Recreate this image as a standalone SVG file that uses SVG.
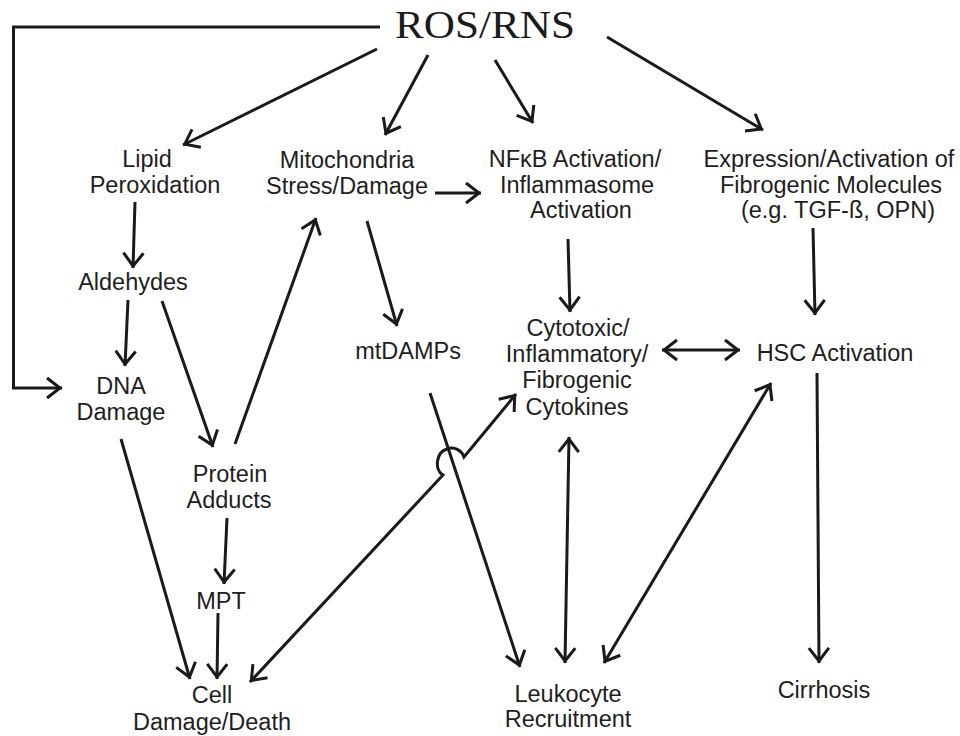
<svg xmlns="http://www.w3.org/2000/svg" width="960" height="736" viewBox="0 0 960 736">
<defs>
<style>
.t{font-family:"Liberation Sans",Arial,sans-serif;font-size:23.5px;fill:#1e1e1e;text-anchor:middle}
.title{font-family:"Liberation Serif","Times New Roman",serif;font-size:41px;fill:#1a1a1a;text-anchor:middle}
.c{fill:none;stroke:#1a1a1a;stroke-width:3}
.a{marker-end:url(#ah)}
.d{marker-start:url(#ah);marker-end:url(#ah)}
</style>
<marker id="ah" markerUnits="userSpaceOnUse" markerWidth="34" markerHeight="34" viewBox="-20 -17 34 34" refX="2" refY="0" orient="auto-start-reverse">
<path d="M-13,-10 L0,0 L-13,10" fill="none" stroke="#1a1a1a" stroke-width="3"/>
</marker>
</defs>
<rect width="960" height="736" fill="#fff"/>

<g id="connectors">
<path class="c a" d="M380,27 L13.5,27 L13.5,388 L62,388"/>
<path class="c a" d="M377,49 L183,145"/>
<path class="c a" d="M428,55 L385,135"/>
<path class="c a" d="M495,60 L533,123"/>
<path class="c a" d="M607,37 L763,130"/>
<path class="c a" d="M435,193 L481,193"/>
<path class="c a" d="M135,202 L133,268"/>
<path class="c a" d="M128,300 L125,366"/>
<path class="c a" d="M162,301 L213,447"/>
<path class="c a" d="M121,439 L190,679"/>
<path class="c a" d="M235,444 L316,218"/>
<path class="c a" d="M367,221 L397,326"/>
<path class="c a" d="M227,518 L224,584"/>
<path class="c a" d="M218,613 L217,679"/>
<path class="c a" d="M430,393 L520,667"/>
<path class="c d" d="M250,682 L443,475 C434,470 436,452 447,449 C455,446 462,451 464,457 L516,394"/>
<path class="c a" d="M568,239 L570,312"/>
<path class="c a" d="M813,228 L815,315"/>
<path class="c d" d="M662,350 L740,350"/>
<path class="c d" d="M565,663 L569,437"/>
<path class="c d" d="M604,663 L771,383"/>
<path class="c a" d="M817,373 L819,663"/>
</g>

<g id="ros"><text class="title" x="485" y="38" textLength="180" lengthAdjust="spacingAndGlyphs">ROS/RNS</text></g>
<g id="lipid"><text class="t" x="147" y="167">Lipid</text><text class="t" x="155" y="193">Peroxidation</text></g>
<g id="mito"><text class="t" x="347" y="168">Mitochondria</text><text class="t" x="347" y="194">Stress/Damage</text></g>
<g id="nfkb"><text class="t" x="575" y="167">NFκB Activation/</text><text class="t" x="577" y="193">Inflammasome</text><text class="t" x="581" y="218">Activation</text></g>
<g id="expr"><text class="t" x="829" y="167">Expression/Activation of</text><text class="t" x="831" y="193">Fibrogenic Molecules</text><text class="t" x="838" y="218">(e.g. TGF-ß, OPN)</text></g>
<g id="aldehydes"><text class="t" x="133" y="290">Aldehydes</text></g>
<g id="dna"><text class="t" x="121" y="394">DNA</text><text class="t" x="121" y="420">Damage</text></g>
<g id="mtdamps"><text class="t" x="408" y="359">mtDAMPs</text></g>
<g id="protein"><text class="t" x="230" y="482">Protein</text><text class="t" x="229" y="508">Adducts</text></g>
<g id="mpt"><text class="t" x="221" y="609">MPT</text></g>
<g id="cell"><text class="t" x="212" y="703">Cell</text><text class="t" x="212" y="730">Damage/Death</text></g>
<g id="cytokines"><text class="t" x="578" y="336">Cytotoxic/</text><text class="t" x="577" y="362">Inflammatory/</text><text class="t" x="577" y="388">Fibrogenic</text><text class="t" x="577" y="415">Cytokines</text></g>
<g id="hsc"><text class="t" x="835" y="361">HSC Activation</text></g>
<g id="leukocyte"><text class="t" x="568" y="702">Leukocyte</text><text class="t" x="568" y="727">Recruitment</text></g>
<g id="cirrhosis"><text class="t" x="824" y="698">Cirrhosis</text></g>
</svg>
